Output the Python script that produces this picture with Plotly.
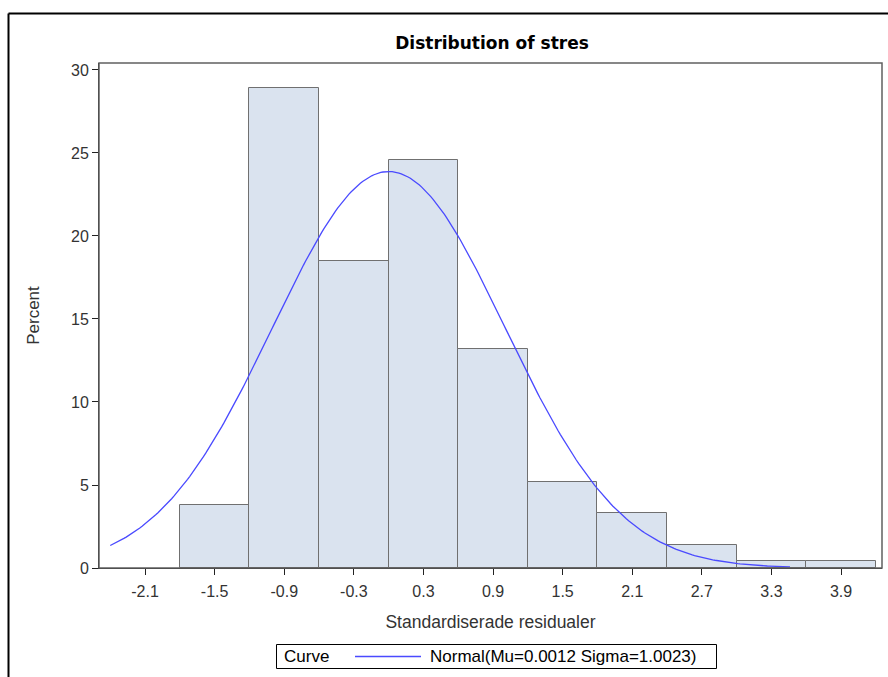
import numpy as np
import plotly.graph_objects as go

# Histogram data (bin midpoints, percent)
bin_mids = [-1.5, -0.9, -0.3, 0.3, 0.9, 1.5, 2.1, 2.7, 3.3, 3.9]
percents = [3.8, 28.9, 18.5, 24.6, 13.2, 5.2, 3.3, 1.4, 0.45, 0.45]
bin_width = 0.6

# Fitted normal curve parameters (from legend)
mu = 0.0012
sigma = 1.0023
curve_start, curve_end = -2.4, 3.46
curve_label = "Normal(Mu=0.0012 Sigma=1.0023)"

x_ticks = [-2.1, -1.5, -0.9, -0.3, 0.3, 0.9, 1.5, 2.1, 2.7, 3.3, 3.9]
y_ticks = [0, 5, 10, 15, 20, 25, 30]

xc = np.linspace(curve_start, curve_end, 300)
yc = 100 * bin_width * np.exp(-0.5 * ((xc - mu) / sigma) ** 2) / (sigma * np.sqrt(2 * np.pi))

FONT = "Liberation Sans, Arial, sans-serif"
CURVE_COLOR = "#4a4aff"

fig = go.Figure()
fig.add_trace(go.Bar(
    x=bin_mids, y=percents, width=[bin_width] * len(bin_mids),
    marker=dict(color="#dae3ef", line=dict(color="#707070", width=1)),
    showlegend=False, hoverinfo="x+y",
))
fig.add_trace(go.Scatter(
    x=xc, y=yc, mode="lines", line=dict(color=CURVE_COLOR, width=1.3),
    name=curve_label, showlegend=False,
))

# Pixel -> paper coordinate helpers (relative to plot area)
L, R, T, B = 99, 882, 63, 568
pw, ph = R - L, B - T
def px(x):
    return (x - L) / pw
def py(y):
    return (B - y) / ph

# Outer frame
fig.add_shape(type="line", xref="paper", yref="paper",
              x0=px(8.5), x1=px(900), y0=py(13.5), y1=py(13.5),
              line=dict(color="black", width=2))
fig.add_shape(type="line", xref="paper", yref="paper",
              x0=px(8.5), x1=px(8.5), y0=py(13.5), y1=py(700),
              line=dict(color="black", width=2))

# Manual legend box
fig.add_shape(type="rect", xref="paper", yref="paper",
              x0=px(276.5), x1=px(716.5), y0=py(644.5), y1=py(668.5),
              line=dict(color="black", width=1), fillcolor="white")
fig.add_shape(type="line", xref="paper", yref="paper",
              x0=px(355), x1=px(421), y0=py(656.5), y1=py(656.5),
              line=dict(color=CURVE_COLOR, width=1.3))
fig.add_annotation(xref="paper", yref="paper", x=px(282), y=py(656.5),
                   xanchor="left", yanchor="middle", showarrow=False,
                   text="Curve", font=dict(family=FONT, size=17, color="black"))
fig.add_annotation(xref="paper", yref="paper", x=px(428), y=py(656.5),
                   xanchor="left", yanchor="middle", showarrow=False,
                   text=curve_label, font=dict(family=FONT, size=17, color="black"))

fig.update_layout(
    width=888, height=677,
    margin=dict(l=L, r=888 - R, t=T, b=677 - B, autoexpand=False),
    paper_bgcolor="white", plot_bgcolor="white",
    font=dict(family=FONT, size=16, color="#333333"),
    title=dict(text="<b>Distribution of stres</b>", x=492 / 888, xanchor="center",
               y=1 - 43 / 677, yanchor="middle",
               font=dict(family="DejaVu Sans, sans-serif", size=17, color="black")),
    bargap=0,
    showlegend=False,
    xaxis=dict(range=[-2.497, 4.253], tickvals=x_ticks,
               ticktext=[str(v) for v in x_ticks],
               showgrid=False, zeroline=False, showline=True, linecolor="#222222",
               linewidth=1, mirror=False, ticks="outside", ticklen=6,
               tickcolor="#222222", tickfont=dict(size=16), ticklabelstandoff=3,
               title=dict(text="Standardiserade residualer", standoff=16,
                          font=dict(size=17.5, color="#333333"))),
    yaxis=dict(range=[0, 30.42], tickvals=y_ticks,
               showgrid=False, zeroline=False, showline=True, linecolor="#222222",
               linewidth=1, ticks="outside", ticklen=6, tickcolor="#222222",
               tickfont=dict(size=16),
               title=dict(text="Percent", standoff=27,
                          font=dict(size=17, color="#333333"))),
)
# Plot frame (top and right) in gray
fig.add_shape(type="rect", xref="paper", yref="paper", x0=0, x1=1, y0=0, y1=1,
              line=dict(color="#606060", width=1.5), layer="above")

fig.write_html("out.html")
